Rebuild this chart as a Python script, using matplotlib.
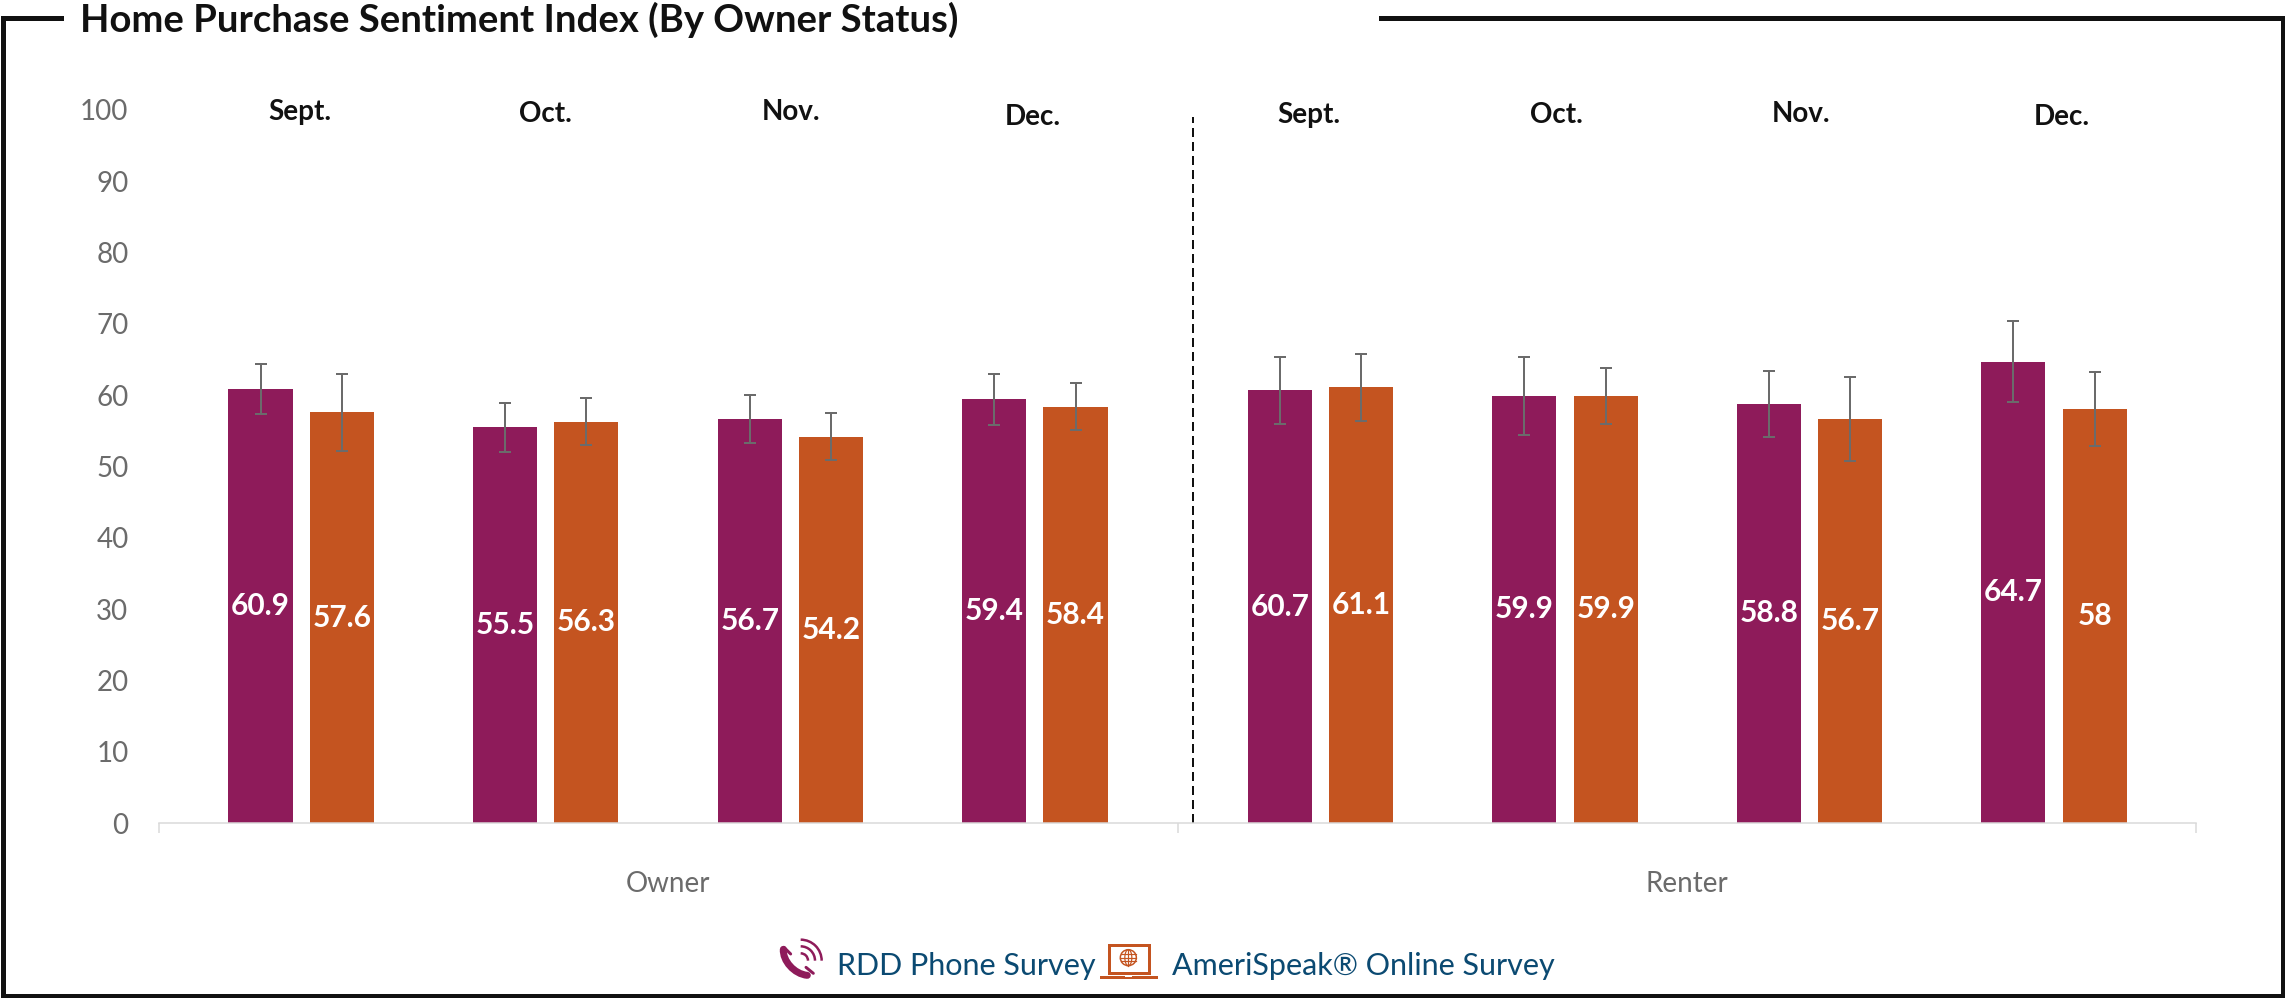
import numpy as np
import matplotlib

matplotlib.use("Agg")
from matplotlib import pyplot as plt
from matplotlib.patches import Arc, Circle, Ellipse, PathPatch, Rectangle
from matplotlib.path import Path

# values
months = ["Sept.", "Oct.", "Nov.", "Dec.", "Sept.", "Oct.", "Nov.", "Dec."]
rdd_values = [60.9, 55.5, 56.7, 59.4, 60.7, 59.9, 58.8, 64.7]
online_values = [57.6, 56.3, 54.2, 58.4, 61.1, 59.9, 56.7, 58]
rdd_low = [57.4, 52.0, 53.3, 55.8, 56.0, 54.4, 54.2, 59.0]
rdd_high = [64.4, 58.9, 60.0, 63.0, 65.4, 65.4, 63.4, 70.4]
online_low = [52.2, 53.0, 50.9, 55.1, 56.4, 55.9, 50.8, 52.9]
online_high = [63.0, 59.6, 57.5, 61.7, 65.8, 63.8, 62.6, 63.2]
y_ticks = list(range(0, 101, 10))
group_names = ["Owner", "Renter"]
title = "Home Purchase Sentiment Index (By Owner Status)"
legend_names = ["RDD Phone Survey", "AmeriSpeak\u00ae Online Survey"]

PURPLE = "#8E1B5A"
ORANGE = "#C45420"
TEXT_BLUE = "#0B4A72"
GREY = "#6B6B6B"
AXIS_GREY = "#D9D9D9"
FRAME = "#111111"

plt.rcParams["font.family"] = ["Lato", "DejaVu Sans"]

W, H = 2285, 998
PX = 0.72  # one pixel in points at dpi 100

figure = plt.figure(figsize=(W / 100, H / 100), dpi=100, facecolor="white")
axis = figure.add_axes([159 / W, (H - 823) / H, 2037 / W, 713 / H])

group_x = np.array([0.582, 1.582, 2.584, 3.584, 4.753, 5.753, 6.754, 7.754])
month_x = [0.577, 1.583, 2.586, 3.576, 4.707, 5.716, 6.718, 7.786]
month_y = [99.7, 99.4, 99.7, 99.0, 99.3, 99.3, 99.4, 99.0]
bar_width = 0.263
offset = 0.1665


def draw_bars(x, values, low, high, color):
    values = np.array(values, dtype=float)
    axis.bar(x, values, bar_width, color=color, linewidth=0)
    axis.errorbar(
        x,
        values,
        yerr=[values - np.array(low), np.array(high) - values],
        fmt="none",
        ecolor=GREY,
        elinewidth=2 * PX,
        capsize=6 * PX,
        capthick=2 * PX,
    )
    for px, value in zip(x, values):
        axis.text(px, value / 2, f"{value:g}", color="white", fontsize=21.5, fontweight="bold", ha="center", va="center")


draw_bars(group_x - offset, rdd_values, rdd_low, rdd_high, PURPLE)
draw_bars(group_x + offset, online_values, online_low, online_high, ORANGE)

for x, y, month in zip(month_x, month_y, months):
    axis.text(x, y, month, color="#111111", fontsize=20, fontweight="bold", ha="center", va="center")

axis.plot([4.229, 4.229], [0, 99], color="#111111", linewidth=2 * PX, dashes=(4.5, 2.5))

axis.set_xlim(0, 8.335)
axis.set_ylim(0, 100)
axis.set_yticks(y_ticks)
axis.tick_params(axis="y", length=0, pad=22, labelsize=20, labelcolor=GREY)
axis.set_xticks([0, 4.169, 8.335])
axis.set_xticklabels([])
axis.tick_params(axis="x", length=10 * PX, width=1.5 * PX, color=AXIS_GREY)
for side in ("left", "right", "top"):
    axis.spines[side].set_visible(False)
axis.spines["bottom"].set_color(AXIS_GREY)
axis.spines["bottom"].set_linewidth(1.5 * PX)

axis.text(2.083, -8.6, group_names[0], color=GREY, fontsize=20, ha="center", va="center")
axis.text(6.25, -8.6, group_names[1], color=GREY, fontsize=20, ha="center", va="center")

# frame, title and legend sit on a pixel-sized overlay
overlay = figure.add_axes([0, 0, 1, 1], facecolor="none")
overlay.set_xlim(0, W)
overlay.set_ylim(H, 0)
overlay.axis("off")

frame_lw = 5 * PX
overlay.plot([61, 2.5, 2.5, W - 2.5, W - 2.5, 1381], [17.5, 17.5, H - 2, H - 2, 17.5, 17.5], color=FRAME, linewidth=frame_lw, solid_joinstyle="miter")

overlay.text(80, 32, title, color="#111111", fontsize=27.5, fontweight="bold", ha="left", va="baseline")

overlay.text(837, 975, legend_names[0], color=TEXT_BLUE, fontsize=22, ha="left", va="baseline")
overlay.text(1172, 975, legend_names[1], color=TEXT_BLUE, fontsize=22, ha="left", va="baseline")


# phone icon, zoomed-crop coordinates mapped back to pixels
def phone(x, y):
    return 770 + x / 3, 930 + y / 3


handset = Path(
    [phone(40, 58), phone(38, 92), phone(72, 132), phone(112, 136)],
    [Path.MOVETO, Path.CURVE4, Path.CURVE4, Path.CURVE4],
)
overlay.add_patch(PathPatch(handset, facecolor="none", edgecolor=PURPLE, linewidth=7 * PX, capstyle="round"))
overlay.plot(*zip(phone(42, 52), phone(62, 72)), color=PURPLE, linewidth=3 * PX, solid_capstyle="round")
overlay.plot(*zip(phone(108, 112), phone(130, 130)), color=PURPLE, linewidth=3 * PX, solid_capstyle="round")
cx, cy = phone(92, 92)
for radius in (22, 43, 63):
    size = 2 * radius / 3
    overlay.add_patch(Arc((cx, cy), size, size, theta1=270, theta2=360, color=PURPLE, linewidth=2.5 * PX))


# laptop icon
def laptop(x, y):
    return 1095 + x / 3, 935 + y / 3


x0, y0 = laptop(41, 31)
x1, y1 = laptop(162, 115)
overlay.add_patch(Rectangle((x0, y0), x1 - x0, y1 - y0, facecolor="white", edgecolor=ORANGE, linewidth=3 * PX))
x0, y0 = laptop(14, 122)
x1, y1 = laptop(188, 132)
overlay.add_patch(Rectangle((x0, y0), x1 - x0, y1 - y0, facecolor=ORANGE, edgecolor="none"))
x0, y0 = laptop(90, 122)
x1, y1 = laptop(112, 127)
overlay.add_patch(Rectangle((x0, y0), x1 - x0, y1 - y0, facecolor="white", edgecolor="none"))
gx, gy = laptop(100, 68)
overlay.add_patch(Circle((gx, gy), 8, facecolor="none", edgecolor=ORANGE, linewidth=1.5 * PX))
overlay.add_patch(Ellipse((gx, gy), 7, 16, facecolor="none", edgecolor=ORANGE, linewidth=1.2 * PX))
overlay.plot([gx, gx], [gy - 8, gy + 8], color=ORANGE, linewidth=1.2 * PX)
for dy in (-3.5, 0, 3.5):
    half = np.sqrt(64 - dy * dy)
    overlay.plot([gx - half, gx + half], [gy + dy, gy + dy], color=ORANGE, linewidth=1.2 * PX)

figure.savefig("out.png", dpi=100)
plt.close(figure)
